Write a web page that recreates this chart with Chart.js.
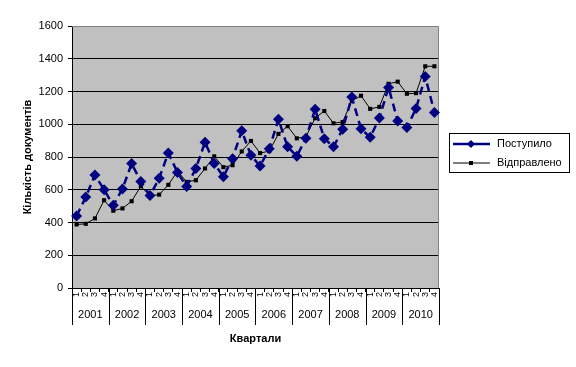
<!DOCTYPE html>
<html>
<head>
<meta charset="utf-8">
<script src="https://cdn.jsdelivr.net/npm/chart.js@4"></script>
<style>
  html, body { margin: 0; padding: 0; background: #fff; }
  canvas { display: block; }
</style>
</head>
<body>
<canvas id="docs-chart" width="576" height="367"></canvas>
<script>
// Chart data: documents per quarter, 2001-2010
const years = ['2001', '2002', '2003', '2004', '2005', '2006', '2007', '2008', '2009', '2010'];
const quarters = ['1', '2', '3', '4'];
const received = [
    440, 555, 690, 600,   505, 605, 760, 650,   565, 670, 825, 705,
    620, 730, 890, 760,   680, 790, 960, 810,   745, 850, 1030, 862,
    805, 914, 1092, 912,  862, 970, 1166, 972,  920, 1038, 1225, 1020,
    980, 1096, 1292, 1072
];
const sent = [
    388, 392, 425, 536,   472, 486, 530, 621,   562, 570, 630, 713,
    648, 658, 730, 804,   738, 750, 834, 898,   824, 836, 941, 988,
    914, 924, 1037, 1081, 1006, 1014, 1143, 1174, 1094, 1106, 1247, 1260,
    1186, 1190, 1354, 1354
];
const yTicks = [0, 200, 400, 600, 800, 1000, 1200, 1400, 1600];

const FONT = '"Liberation Sans", Arial, sans-serif';

// one label per quarter: 1..4 repeated for every year
const labels = [];
years.forEach(() => quarters.forEach(q => labels.push(q)));

/**
 * Gray plot area and white page background
 */
const plotBackground = {
    id: 'plotBackground',
    beforeDraw(chart) {
        const { ctx, chartArea: a } = chart;
        ctx.save();
        ctx.fillStyle = '#ffffff';
        ctx.fillRect(0, 0, chart.width, chart.height);
        ctx.fillStyle = '#c0c0c0';
        ctx.fillRect(a.left, a.top, a.right - a.left, a.bottom - a.top);
        ctx.restore();
    },
    beforeDatasetsDraw(chart) {
        const { ctx, chartArea: a } = chart;
        ctx.save();
        ctx.strokeStyle = '#808080';
        ctx.lineWidth = 1;
        ctx.beginPath();
        ctx.moveTo(a.left, a.top + 0.5);
        ctx.lineTo(a.right - 0.5, a.top + 0.5);
        ctx.lineTo(a.right - 0.5, a.bottom);
        ctx.stroke();
        ctx.restore();
    }
};

/**
 * Year row under the quarter labels, with separators between years
 */
const yearRow = {
    id: 'yearRow',
    afterDraw(chart) {
        const { ctx } = chart;
        const x = chart.scales.x;
        const step = x.getPixelForValue(1) - x.getPixelForValue(0);
        const top = chart.chartArea.bottom;
        ctx.save();
        ctx.strokeStyle = '#000';
        ctx.lineWidth = 1;
        ctx.fillStyle = '#000';
        ctx.font = '11px ' + FONT;
        ctx.textAlign = 'center';
        ctx.textBaseline = 'middle';
        for (let k = 0; k <= years.length; k++) {
            const bx = Math.round(x.getPixelForValue(k * 4) - step / 2) + 0.5;
            ctx.beginPath();
            ctx.moveTo(bx, top);
            ctx.lineTo(bx, top + 37);
            ctx.stroke();
        }
        years.forEach((year, k) => {
            const cx = (x.getPixelForValue(k * 4) + x.getPixelForValue(k * 4 + 3)) / 2;
            ctx.fillText(year, cx, top + 27);
        });
        ctx.restore();
    }
};

/**
 * Boxed legend on the right, line + marker like the original
 */
const boxLegend = {
    id: 'boxLegend',
    afterDraw(chart) {
        const { ctx } = chart;
        const box = { x: 449, y: 133, w: 120, h: 39 };
        ctx.save();
        ctx.fillStyle = '#fff';
        ctx.fillRect(box.x, box.y, box.w, box.h);
        ctx.strokeStyle = '#000';
        ctx.lineWidth = 1;
        ctx.strokeRect(box.x + 0.5, box.y + 0.5, box.w, box.h);
        ctx.font = '11px ' + FONT;
        ctx.textBaseline = 'middle';
        chart.data.datasets.forEach((ds, i) => {
            const y = box.y + 11 + i * 19;
            ctx.strokeStyle = ds.borderColor;
            ctx.lineWidth = ds.borderWidth;
            ctx.beginPath();
            ctx.moveTo(453, y);
            ctx.lineTo(490, y);
            ctx.stroke();
            ctx.fillStyle = ds.pointBackgroundColor;
            ctx.beginPath();
            if (ds.pointStyle === 'rectRot') {
                const r = 4;
                ctx.moveTo(471, y - r);
                ctx.lineTo(471 + r, y);
                ctx.lineTo(471, y + r);
                ctx.lineTo(471 - r, y);
                ctx.closePath();
            } else {
                ctx.rect(469, y - 2, 4, 4);
            }
            ctx.fill();
            ctx.fillStyle = '#000';
            ctx.fillText(ds.label, 497, y);
        });
        ctx.restore();
    }
};

const ctx = document.getElementById('docs-chart').getContext('2d');

new Chart(ctx, {
    type: 'line',
    data: {
        labels: labels,
        datasets: [{
            label: 'Поступило',
            data: received,
            borderColor: '#000080',
            backgroundColor: '#000080',
            borderWidth: 2.5,
            borderDash: [8, 5],
            pointStyle: 'rectRot',
            pointRadius: 5.5,
            pointBackgroundColor: '#000080',
            pointBorderColor: '#000080',
            pointBorderWidth: 0,
            tension: 0
        }, {
            label: 'Відправлено',
            data: sent,
            borderColor: '#000000',
            backgroundColor: '#000000',
            borderWidth: 1,
            pointStyle: 'rect',
            pointRadius: 2.9,
            pointBackgroundColor: '#000000',
            pointBorderColor: '#000000',
            pointBorderWidth: 0,
            tension: 0
        }]
    },
    options: {
        responsive: false,
        animation: false,
        devicePixelRatio: 1,
        layout: {
            padding: { top: 26, right: 137, left: 0, bottom: 0 }
        },
        plugins: {
            legend: { display: false },
            tooltip: { enabled: false }
        },
        scales: {
            x: {
                type: 'category',
                offset: true,
                afterFit(scale) { scale.height = 79; },
                grid: {
                    display: true,
                    offset: true,
                    drawOnChartArea: false,
                    tickLength: 4,
                    color: '#000'
                },
                border: { color: '#000', width: 1 },
                ticks: {
                    autoSkip: false,
                    minRotation: 90,
                    maxRotation: 90,
                    padding: 0,
                    color: '#000',
                    font: { family: FONT, size: 9 }
                },
                title: {
                    display: true,
                    text: 'Квартали',
                    color: '#000',
                    font: { family: FONT, size: 11, weight: 'bold' },
                    padding: { top: 0, bottom: 21 }
                }
            },
            y: {
                min: 0,
                max: 1600,
                afterFit(scale) { scale.width = 72; },
                afterBuildTicks(scale) {
                    scale.ticks = yTicks.map(v => ({ value: v }));
                },
                grid: {
                    color: c => (c.tick && c.tick.value === 1600 ? 'rgba(0,0,0,0)' : '#000'),
                    tickColor: '#000',
                    tickLength: 4,
                    lineWidth: 1
                },
                border: { color: '#000', width: 1 },
                ticks: {
                    padding: 5,
                    color: '#000',
                    font: { family: FONT, size: 11 },
                    callback: v => String(v)
                },
                title: {
                    display: true,
                    text: 'Кількість документів',
                    color: '#000',
                    font: { family: FONT, size: 11, weight: 'bold' },
                    padding: { top: 21, bottom: 0 }
                }
            }
        }
    },
    plugins: [plotBackground, yearRow, boxLegend]
});
</script>
</body>
</html>
